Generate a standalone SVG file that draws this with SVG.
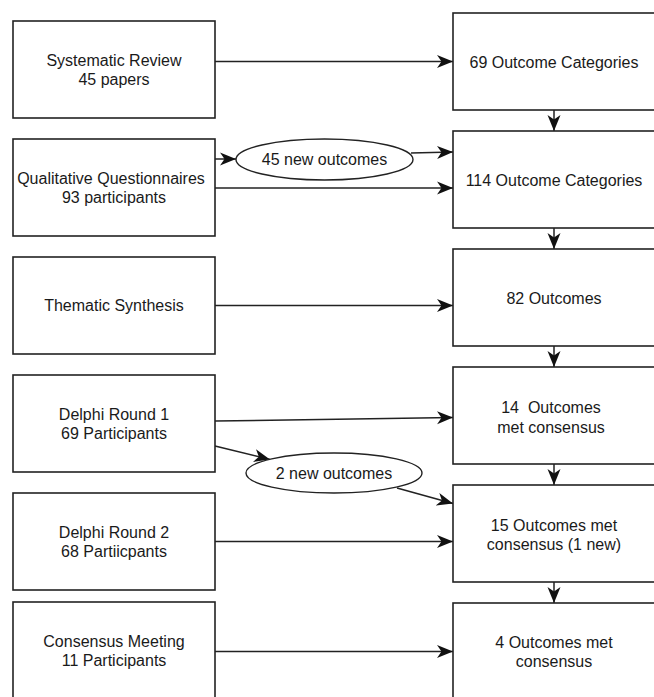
<svg xmlns="http://www.w3.org/2000/svg" width="654" height="697" viewBox="0 0 654 697">
<style>
.box{fill:#fff;stroke:#222;stroke-width:1.6}
.ell{fill:#fff;stroke:#222;stroke-width:1.4}
.edge{fill:none;stroke:#222;stroke-width:1.5;marker-end:url(#arr)}
text{font-family:"Liberation Sans",Arial,sans-serif;font-size:16px;fill:#1a1a1a;text-anchor:middle}
</style>
<defs>
<marker id="arr" markerWidth="17" markerHeight="14" refX="16" refY="7" orient="auto" markerUnits="userSpaceOnUse">
<path d="M0,0.5 L16,7 L0,13.5 L4.5,7 Z" fill="#111"/>
</marker>
</defs>
<rect width="654" height="697" fill="#fff"/>
<g id="edges">
<line class="edge" x1="215" y1="61.5" x2="453" y2="61.5"/>
<line class="edge" x1="215" y1="159" x2="236" y2="159"/>
<line class="edge" x1="411" y1="153" x2="453" y2="152"/>
<line class="edge" x1="215" y1="188" x2="453" y2="188"/>
<line class="edge" x1="215" y1="305.5" x2="453" y2="305.5"/>
<line class="edge" x1="215" y1="421" x2="453" y2="417.5"/>
<line class="edge" x1="215" y1="446" x2="270" y2="459.5"/>
<line class="edge" x1="397" y1="488" x2="453" y2="503.5"/>
<line class="edge" x1="215" y1="541.5" x2="453" y2="541.5"/>
<line class="edge" x1="215" y1="651.5" x2="453" y2="651.5"/>
<line class="edge" x1="554" y1="110" x2="554" y2="131"/>
<line class="edge" x1="554" y1="228" x2="554" y2="249"/>
<line class="edge" x1="554" y1="346" x2="554" y2="367"/>
<line class="edge" x1="554" y1="464" x2="554" y2="485"/>
<line class="edge" x1="554" y1="582" x2="554" y2="603"/>
</g>
<g id="sysreview"><rect class="box" x="13" y="21" width="202" height="97"/><text x="114" y="65.5">Systematic Review</text><text x="114" y="85">45 papers</text></g>
<g id="qualq"><rect class="box" x="13" y="139" width="202" height="97"/><text x="111" y="183.5">Qualitative Questionnaires</text><text x="114" y="203">93 participants</text></g>
<g id="thematic"><rect class="box" x="13" y="257" width="202" height="97"/><text x="114" y="311">Thematic Synthesis</text></g>
<g id="delphi1"><rect class="box" x="13" y="375" width="202" height="97"/><text x="114" y="419.5">Delphi Round 1</text><text x="114" y="439">69 Participants</text></g>
<g id="delphi2"><rect class="box" x="13" y="493" width="202" height="97"/><text x="114" y="537.5">Delphi Round 2</text><text x="114" y="557">68 Partiicpants</text></g>
<g id="consmeeting"><rect class="box" x="13" y="602" width="202" height="97"/><text x="114" y="646.5">Consensus Meeting</text><text x="114" y="666">11 Participants</text></g>
<g id="oc69"><rect class="box" x="453" y="13" width="203" height="97"/><text x="554" y="67.5">69 Outcome Categories</text></g>
<g id="oc114"><rect class="box" x="453" y="131" width="203" height="97"/><text x="554" y="185.5">114 Outcome Categories</text></g>
<g id="oc82"><rect class="box" x="453" y="249" width="203" height="97"/><text x="554" y="303.5">82 Outcomes</text></g>
<g id="oc14"><rect class="box" x="453" y="367" width="203" height="97"/><text x="551" y="413" xml:space="preserve">14  Outcomes</text><text x="551" y="432.5">met consensus</text></g>
<g id="oc15"><rect class="box" x="453" y="485" width="203" height="97"/><text x="554" y="530.5">15 Outcomes met</text><text x="554" y="549.5">consensus (1 new)</text></g>
<g id="oc4"><rect class="box" x="453" y="603" width="203" height="97"/><text x="554" y="648">4 Outcomes met</text><text x="554" y="667">consensus</text></g>
<g id="new45"><ellipse class="ell" cx="324.5" cy="159.5" rx="88.5" ry="20.5"/><text x="324.5" y="165">45 new outcomes</text></g>
<g id="new2"><ellipse class="ell" cx="334" cy="473" rx="88" ry="20"/><text x="334" y="478.5">2 new outcomes</text></g>
</svg>
